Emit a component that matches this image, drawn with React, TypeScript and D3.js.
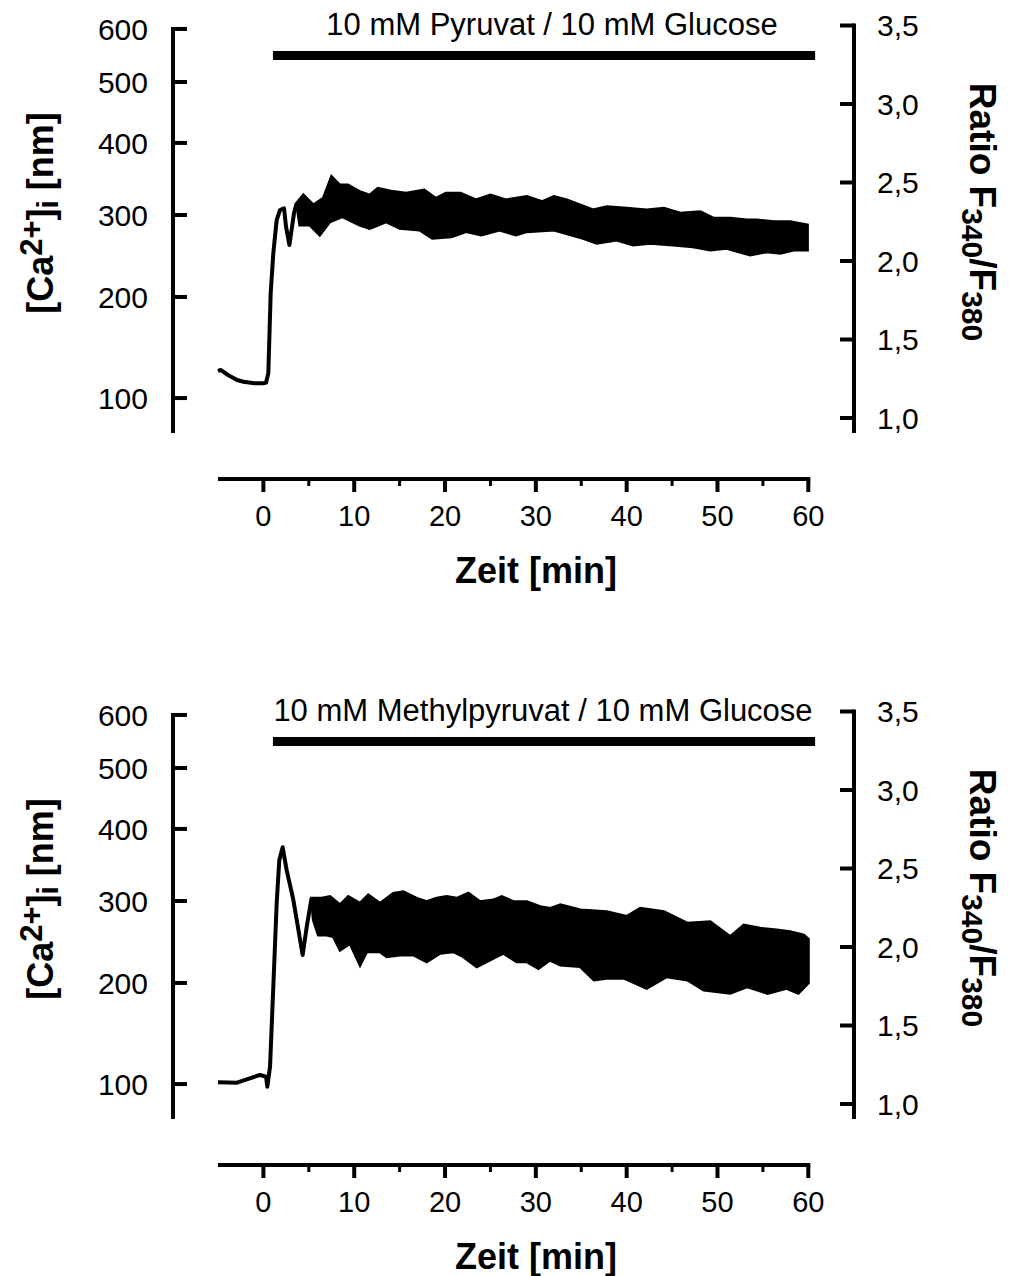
import React from 'react';
import * as d3 from 'd3';

const W = 1009;
const H = 1276;
const FONT = "'Liberation Sans', Arial, Helvetica, sans-serif";

// Axis ticks
const TIME_TICKS = [0, 10, 20, 30, 40, 50, 60];
const TIME_MINOR = [5, 15, 25, 35, 45, 55];
const CA_TICKS = [100, 200, 300, 400, 500, 600];
const CA_TICK_RATIOS = [1.127, 1.771, 2.293, 2.752, 3.14, 3.478];
const RATIO_TICKS = [1.0, 1.5, 2.0, 2.5, 3.0, 3.5];
const TREATMENT = [1.05, 60.75];

// Panel 1: Pyruvat — rising line part (time, ratio)
const pyrLineT = [-5, -4.7, -3.9, -2.9, -2.2, -1, 0, 0.29, 0.54, 0.8, 1.09, 1.46, 1.83, 2.27, 2.49, 2.86, 3.37, 3.66];
const pyrLineR = [1.299, 1.306, 1.274, 1.242, 1.231, 1.221, 1.221, 1.225, 1.285, 1.794, 2.049, 2.261, 2.325, 2.336, 2.219, 2.102, 2.304, 2.368];
// Panel 1: noisy band upper / lower envelopes
const pyrUpperT = [3.66, 4.4, 5.5, 6.6, 7.5, 8.4, 9.3, 10.6, 11.7, 12.6, 14.3, 15.7, 17.7, 19.0, 20.1, 21.7, 23.4, 25.0, 26.7, 29.0, 30.7, 32.0, 33.4, 36.3, 37.8, 40.0, 42.2, 44.1, 45.9, 48.1, 49.6, 51.4, 53.2, 54.3, 56.2, 58.0, 59.9];
const pyrUpperR = [2.368, 2.42, 2.357, 2.399, 2.537, 2.484, 2.484, 2.442, 2.42, 2.463, 2.442, 2.431, 2.452, 2.399, 2.431, 2.431, 2.389, 2.42, 2.389, 2.41, 2.378, 2.41, 2.389, 2.325, 2.346, 2.336, 2.325, 2.336, 2.304, 2.314, 2.272, 2.272, 2.261, 2.261, 2.25, 2.25, 2.229];
const pyrLowerT = [3.66, 4.0, 5.1, 6.2, 7.3, 8.7, 10.6, 11.7, 13.5, 15.0, 17.2, 18.6, 20.7, 22.3, 24.0, 26.0, 27.8, 29.0, 32.0, 35.2, 36.7, 38.9, 40.7, 42.6, 45.1, 47.3, 49.2, 51.0, 53.6, 55.4, 56.9, 58.4, 59.9];
const pyrLowerR = [2.368, 2.229, 2.229, 2.166, 2.25, 2.282, 2.229, 2.208, 2.25, 2.208, 2.197, 2.145, 2.155, 2.187, 2.166, 2.197, 2.166, 2.187, 2.197, 2.145, 2.113, 2.134, 2.102, 2.113, 2.102, 2.091, 2.07, 2.081, 2.038, 2.059, 2.049, 2.07, 2.07];

// Panel 2: Methylpyruvat — rising line part
const mpLineT = [-5, -2.9, -1.84, -0.37, 0.29, 0.43, 0.73, 1.09, 1.46, 1.75, 2.12, 2.56, 3.3, 4.32, 4.77, 5.3];
const mpLineR = [1.138, 1.136, 1.157, 1.185, 1.174, 1.11, 1.238, 1.747, 2.278, 2.554, 2.635, 2.49, 2.299, 1.949, 2.129, 2.31];
const mpUpperT = [5.3, 6.42, 7.33, 8.44, 9.35, 10.64, 11.55, 12.84, 14.31, 15.41, 16.88, 17.98, 19.08, 20.19, 21.29, 22.57, 23.85, 25.32, 26.24, 27.52, 29.0, 30.46, 31.6, 32.7, 34.9, 37.8, 40.0, 41.5, 44.1, 46.7, 49.2, 51.4, 52.9, 54.7, 56.5, 58.0, 59.5, 60.0];
const mpUpperR = [2.31, 2.31, 2.321, 2.268, 2.321, 2.278, 2.331, 2.278, 2.342, 2.352, 2.31, 2.289, 2.31, 2.321, 2.31, 2.342, 2.289, 2.299, 2.321, 2.289, 2.289, 2.257, 2.246, 2.268, 2.236, 2.225, 2.194, 2.246, 2.225, 2.151, 2.161, 2.066, 2.14, 2.119, 2.108, 2.098, 2.076, 2.05];
const mpLowerT = [5.3, 5.5, 6.05, 6.97, 7.7, 8.44, 9.54, 10.64, 11.37, 12.84, 13.58, 15.04, 16.51, 17.98, 19.45, 20.92, 22.02, 23.49, 24.96, 26.42, 27.89, 29.0, 30.28, 31.56, 32.7, 34.9, 36.4, 37.8, 39.7, 42.2, 44.4, 46.7, 48.5, 51.4, 53.3, 55.5, 57.6, 58.9, 60.0];
const mpLowerR = [2.31, 2.172, 2.076, 2.076, 2.066, 1.981, 2.023, 1.885, 1.97, 1.97, 1.938, 1.949, 1.949, 1.906, 1.96, 1.97, 1.938, 1.875, 1.917, 1.96, 1.906, 1.906, 1.864, 1.917, 1.885, 1.875, 1.79, 1.801, 1.801, 1.737, 1.811, 1.79, 1.726, 1.705, 1.747, 1.705, 1.737, 1.705, 1.771];

const xScale = d3.scaleLinear().domain([-5, 60]).range([218, 808.3]);
const caToRatio = d3.scaleLinear().domain(CA_TICKS).range(CA_TICK_RATIOS);

type PanelProps = {
  offset: number;
  label: string;
  labelX: number;
  lineT: number[];
  lineR: number[];
  upT: number[];
  upR: number[];
  loT: number[];
  loR: number[];
};

function Panel({ offset, label, labelX, lineT, lineR, upT, upR, loT, loR }: PanelProps) {
  const yR = d3.scaleLinear().domain([1, 3.5]).range([418 + offset, 25.5 + offset]);
  const yCa = (c: number) => yR(caToRatio(c));
  const lineGen = d3.line<[number, number]>().x(d => xScale(d[0])).y(d => yR(d[1]));
  const linePts: [number, number][] = lineT.map((t, i) => [t, lineR[i]]);
  const bandPts: [number, number][] = [
    ...upT.map((t, i) => [t, upR[i]] as [number, number]),
    ...loT.map((t, i) => [t, loR[i]] as [number, number]).reverse(),
  ];
  const leftX = 173;
  const rightX = 854;
  const axisBottom = yR(0.905);
  const xAxisY = 479 + offset;
  const barY = 55.5 + offset;

  return (
    <g>
      {/* treatment bar */}
      <line x1={xScale(TREATMENT[0])} x2={xScale(TREATMENT[1])} y1={barY} y2={barY} stroke="#000" strokeWidth={9} />
      <text x={labelX} y={35 + offset} fontSize={31} textAnchor="middle" fontFamily={FONT}>{label}</text>

      {/* left Ca axis */}
      <line x1={leftX} x2={leftX} y1={yCa(600) - 2} y2={axisBottom} stroke="#000" strokeWidth={4} />
      {CA_TICKS.map(c => (
        <g key={c}>
          <line x1={leftX} x2={leftX + 14} y1={yCa(c)} y2={yCa(c)} stroke="#000" strokeWidth={4} />
          <text x={148} y={yCa(c)} dy="0.36em" fontSize={30} textAnchor="end" fontFamily={FONT}>{c}</text>
        </g>
      ))}

      {/* right ratio axis */}
      <line x1={rightX} x2={rightX} y1={yR(3.5) - 2} y2={axisBottom} stroke="#000" strokeWidth={4} />
      {RATIO_TICKS.map(r => (
        <g key={r}>
          <line x1={rightX - 14} x2={rightX} y1={yR(r)} y2={yR(r)} stroke="#000" strokeWidth={4} />
          <text x={877} y={yR(r)} dy="0.36em" fontSize={30} textAnchor="start" fontFamily={FONT}>{r.toFixed(1).replace('.', ',')}</text>
        </g>
      ))}

      {/* x axis */}
      <line x1={xScale(-5)} x2={xScale(60) + 2} y1={xAxisY} y2={xAxisY} stroke="#000" strokeWidth={4} />
      {TIME_TICKS.map(t => (
        <g key={t}>
          <line x1={xScale(t)} x2={xScale(t)} y1={xAxisY} y2={xAxisY + 13} stroke="#000" strokeWidth={4} />
          <text x={xScale(t)} y={xAxisY + 47} fontSize={29} textAnchor="middle" fontFamily={FONT}>{t}</text>
        </g>
      ))}
      {TIME_MINOR.map(t => (
        <line key={t} x1={xScale(t)} x2={xScale(t)} y1={xAxisY} y2={xAxisY + 7} stroke="#000" strokeWidth={3} />
      ))}
      <text x={536} y={xAxisY + 104} fontSize={36} fontWeight="bold" textAnchor="middle" fontFamily={FONT}>Zeit [min]</text>

      {/* axis titles */}
      <text transform={`translate(53,${213 + offset}) rotate(-90)`} fontSize={36} fontWeight="bold" textAnchor="middle" fontFamily={FONT}>
        [Ca<tspan fontSize={31} dy={-11}>2+</tspan><tspan dy={11}>]</tspan><tspan fontSize={30} dy={5}>i</tspan><tspan dy={-5}> [nm]</tspan>
      </text>
      <text transform={`translate(970,${212 + offset}) rotate(90)`} fontSize={37} fontWeight="bold" textAnchor="middle" fontFamily={FONT}>
        Ratio F<tspan fontSize={30} dy={8}>340</tspan><tspan dy={-8}>/F</tspan><tspan fontSize={30} dy={8}>380</tspan>
      </text>

      {/* data */}
      <path d={lineGen(linePts) || ''} fill="none" stroke="#000" strokeWidth={4} strokeLinejoin="round" />
      <path d={(lineGen(bandPts) || '') + 'Z'} fill="#000" stroke="#000" strokeWidth={3} strokeLinejoin="miter" />
    </g>
  );
}

export default function App() {
  return (
    <svg width={W} height={H} viewBox={`0 0 ${W} ${H}`} style={{ position: 'absolute', left: 0, top: 0, background: '#fff' }}>
      <rect width={W} height={H} fill="#fff" />
      <Panel offset={0} label="10 mM Pyruvat / 10 mM Glucose" labelX={552}
        lineT={pyrLineT} lineR={pyrLineR} upT={pyrUpperT} upR={pyrUpperR} loT={pyrLowerT} loR={pyrLowerR} />
      <Panel offset={686} label="10 mM Methylpyruvat / 10 mM Glucose" labelX={543}
        lineT={mpLineT} lineR={mpLineR} upT={mpUpperT} upR={mpUpperR} loT={mpLowerT} loR={mpLowerR} />
    </svg>
  );
}
